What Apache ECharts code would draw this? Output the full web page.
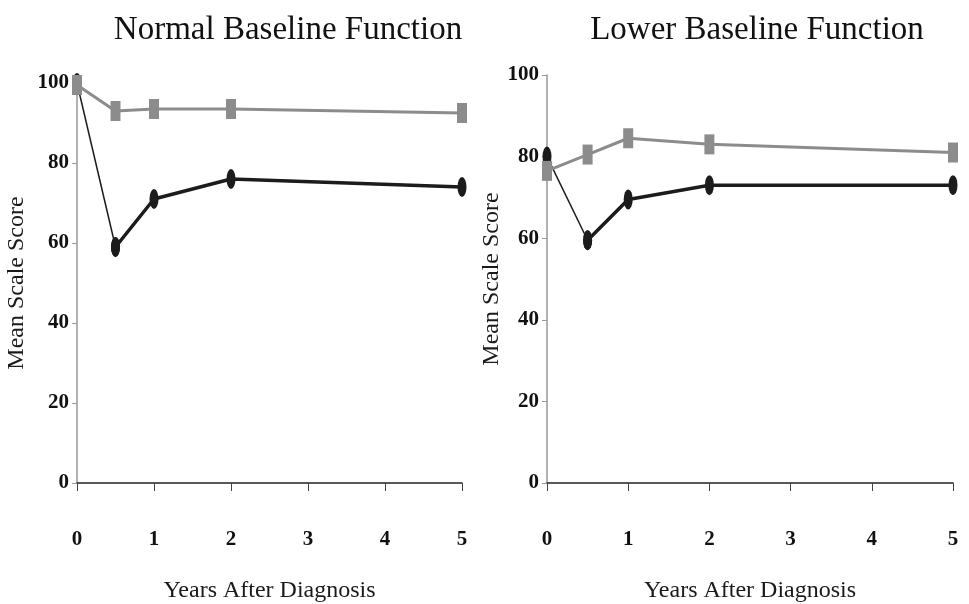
<!DOCTYPE html>
<html>
<head>
<meta charset="utf-8">
<script src="https://cdn.jsdelivr.net/npm/echarts@6/dist/echarts.min.js"></script>
<style>html,body{margin:0;padding:0;background:#fff}#c{width:969px;height:604px}</style>
</head>
<body>
<div id="c"></div>
<script>
var years = [0, 0.5, 1, 2, 5];
var xTicks = [0, 1, 2, 3, 4, 5];
var yTicks = [0, 20, 40, 60, 80, 100];
var panelTitles = ['Normal Baseline Function', 'Lower Baseline Function'];
var normalGray = [99.5, 93, 93.5, 93.5, 92.5];
var normalDark = [100, 59, 71, 76, 74];
var lowerGray = [76.5, 80.5, 84.5, 83, 81];
var lowerDark = [80, 59.5, 69.5, 73, 73];

var GRAY = '#8c8c8c', DARK = '#1c1c1c', FONT = 'Liberation Serif';

function pts(vals, from, to) {
  var out = [];
  for (var i = from; i < to; i++) out.push([years[i], vals[i]]);
  return out;
}

var grids = [
  {left: 77, right: 507, top: 83, bottom: 121, outerBoundsMode: 'none', containLabel: false},
  {left: 547, right: 16, top: 75, bottom: 121, outerBoundsMode: 'none', containLabel: false}
];

function xAxis(i) {
  return {
    type: 'value', gridIndex: i, min: xTicks[0], max: xTicks[xTicks.length - 1], interval: 1,
    name: 'Years After Diagnosis', nameLocation: 'middle', nameGap: 96,
    nameTextStyle: {fontFamily: FONT, fontSize: 24, color: '#1a1a1a'},
    axisLine: {lineStyle: {color: '#222', width: 1.5}},
    axisTick: {show: true, length: 8, lineStyle: {color: '#444'}},
    axisLabel: {fontFamily: FONT, fontSize: 21, fontWeight: 'bold', color: '#111', margin: 46},
    splitLine: {show: false}
  };
}
function yAxis(i, gap) {
  return {
    type: 'value', gridIndex: i, min: yTicks[0], max: yTicks[yTicks.length - 1], interval: 20,
    name: 'Mean Scale Score', nameLocation: 'middle', nameGap: gap,
    nameTextStyle: {fontFamily: FONT, fontSize: 24, color: '#1a1a1a'},
    axisLine: {show: true, lineStyle: {color: '#999', width: 1.5}},
    axisTick: {show: true, length: 5, lineStyle: {color: '#999'}},
    axisLabel: {fontFamily: FONT, fontSize: 21, fontWeight: 'bold', color: '#111', margin: 8},
    splitLine: {show: false}
  };
}

function panelSeries(i, gray, dark) {
  return [
    {type: 'line', xAxisIndex: i, yAxisIndex: i, data: pts(dark, 0, 2), z: 2,
     lineStyle: {color: DARK, width: 1.5}, symbol: 'circle', symbolSize: [9, 20],
     itemStyle: {color: DARK}, showAllSymbol: true, animation: false},
    {type: 'line', xAxisIndex: i, yAxisIndex: i, data: pts(dark, 1, years.length), z: 3,
     lineStyle: {color: DARK, width: 3.5}, symbol: 'circle', symbolSize: [9, 20],
     itemStyle: {color: DARK}, animation: false},
    {type: 'line', xAxisIndex: i, yAxisIndex: i, data: pts(gray, 0, years.length), z: 4,
     lineStyle: {color: GRAY, width: 3}, symbol: 'rect', symbolSize: [10, 20],
     itemStyle: {color: GRAY}, animation: false}
  ];
}

var chart = echarts.init(document.getElementById('c'), null, {renderer: 'canvas'});
chart.setOption({
  backgroundColor: '#fff',
  animation: false,
  title: [
    {text: panelTitles[0], left: 283, top: 9, textAlign: 'center',
     textStyle: {fontFamily: FONT, fontSize: 33, fontWeight: 'normal', color: '#111'}},
    {text: panelTitles[1], left: 752, top: 9, textAlign: 'center',
     textStyle: {fontFamily: FONT, fontSize: 33, fontWeight: 'normal', color: '#111'}}
  ],
  grid: grids,
  xAxis: [xAxis(0), xAxis(1)],
  yAxis: [yAxis(0, 48), yAxis(1, 39)],
  series: panelSeries(0, normalGray, normalDark).concat(panelSeries(1, lowerGray, lowerDark))
});
</script>
</body>
</html>
